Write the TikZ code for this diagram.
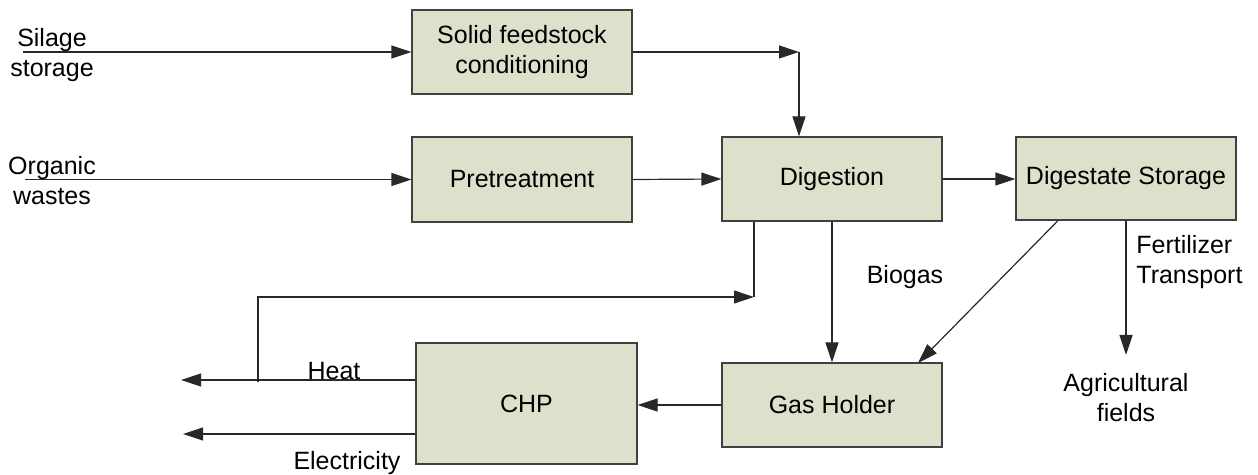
\documentclass[tikz,border=0pt]{standalone}
\usepackage{fontspec}
\setmainfont{Liberation Sans}
\usetikzlibrary{arrows.meta,calc}
\definecolor{boxfill}{RGB}{221,224,203}
\definecolor{boxline}{RGB}{64,64,64}
\definecolor{wire}{RGB}{40,40,40}
\begin{document}
\begin{tikzpicture}[x=0.5pt,y=-0.5pt,
  font=\fontsize{12.5}{15}\selectfont,
  box/.style={draw=boxline, fill=boxfill, line width=0.6pt, inner sep=0pt, align=center},
  flow/.style={draw=wire, line width=0.6pt, -{Triangle[length=10pt,width=6.5pt]}},
  wireline/.style={draw=wire, line width=0.6pt},
  lbl/.style={inner sep=0pt, align=center}]
\useasboundingbox (0,0) rectangle (1258,475);

% boxes
\node[box, minimum width=110pt, minimum height=42pt] (solid) at (522,52) {Solid feedstock\\conditioning};
\node[box, minimum width=110pt, minimum height=42.5pt] (pre) at (522,179.5) {Pretreatment};
\node[box, minimum width=110pt, minimum height=42pt] (dig) at (832,179) {Digestion};
\node[box, minimum width=110pt, minimum height=41.5pt] (store) at (1126,178.5) {Digestate Storage};
\node[box, minimum width=110.5pt, minimum height=60.5pt] (chp) at (526.5,403.5) {CHP};
\node[box, minimum width=110pt, minimum height=42pt] (gas) at (832,405) {Gas Holder};

% labels
\node[lbl] (silage) at (52,55) {Silage\\storage};
\node[lbl] (organic) at (52,181) {Organic\\wastes};
\node[lbl] (biogas) at (905,277) {Biogas};
\node[lbl, align=left, anchor=west] (fert) at (1136,262) {Fertilizer\\Transport};
\node[lbl] (fields) at (1126,398) {Agricultural\\fields};
\node[lbl] (heat) at (334,371) {Heat};
\node[lbl] (elec) at (347,463) {Electricity};

% helper coordinates
\coordinate (silin) at (23,52);
\coordinate (orgin) at (25,179.5);
\coordinate (topc) at (799,52);
\coordinate (loopc) at (754,297);
\coordinate (heatbr) at (258,382);
\coordinate (heatend) at (181,380);
\coordinate (elecend) at (183,434);
\coordinate (fieldend) at (1126,355);
\coordinate (diagstart) at (1058,220);
\coordinate (diagend) at (918,363);

% connectors
\draw[flow] (silin) -- (solid.west |- silin);
\draw[flow] (orgin) -- (pre.west);
\draw[flow] (solid.east) -- (topc);
\draw[flow] (topc) -- (dig.north -| topc);
\draw[flow] (pre.east) -- (dig.west);
\draw[flow] (dig.east) -- (store.west |- dig.east);
\draw[flow] (dig.south) -- (gas.north);
\draw[wireline] (dig.south -| loopc) -- (loopc);
\draw[flow] (heatbr) -- (heatbr |- loopc) -- (loopc);
\draw[flow] (store.south -| diagstart) -- (diagend);
\draw[flow] (store.south) -- (fieldend);
\draw[flow] (gas.west) -- (chp.east |- gas.west);
\draw[flow] (chp.west |- heatend) -- (heatend);
\draw[flow] (chp.west |- elecend) -- (elecend);
\end{tikzpicture}
\end{document}
